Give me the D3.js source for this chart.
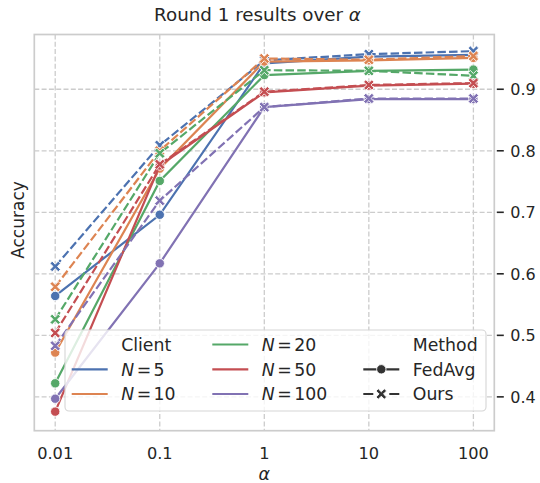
<!DOCTYPE html>
<html>
<head>
<meta charset="utf-8">
<script src="https://cdn.jsdelivr.net/npm/d3@7"></script>
<style>
  body { margin: 0; background: #fff; }
  text { font-family: "DejaVu Sans", sans-serif; fill: #262626; }
</style>
</head>
<body>
<div id="chart"></div>
<script>
// alpha values on the x axis
var alphas = [0.01, 0.1, 1, 10, 100];
var alphaLabels = ["0.01", "0.1", "1", "10", "100"];
var yTicks = [0.4, 0.5, 0.6, 0.7, 0.8, 0.9];

var clients = ["5", "10", "20", "50", "100"];
var colors = ["#4C72B0", "#DD8452", "#55A868", "#C44E52", "#8172B3"];

// accuracy per client count
var fedavg = [
  [0.564, 0.696, 0.942, 0.953, 0.956],
  [0.472, 0.771, 0.945, 0.947, 0.951],
  [0.422, 0.751, 0.923, 0.930, 0.932],
  [0.376, 0.776, 0.895, 0.906, 0.909],
  [0.397, 0.617, 0.871, 0.884, 0.884]
];
var ours = [
  [0.612, 0.809, 0.947, 0.957, 0.962],
  [0.579, 0.800, 0.950, 0.948, 0.954],
  [0.526, 0.796, 0.931, 0.930, 0.922],
  [0.504, 0.778, 0.896, 0.907, 0.910],
  [0.483, 0.719, 0.871, 0.885, 0.885]
];

var W = 540, H = 483;
var L = 34.3, R = 494.3, T = 34.5, B = 430.7;

var svg = d3.select("#chart").append("svg")
    .attr("width", W)
    .attr("height", H);

var x = d3.scaleLog()
    .domain([0.01 / Math.pow(10, 0.2), 100 * Math.pow(10, 0.2)])
    .range([L, R]);
var y = d3.scaleLinear()
    .domain([0.345, 0.989])
    .range([B, T]);

// grid
svg.append("g").selectAll("line.gx")
    .data(alphas).enter().append("line")
    .attr("x1", d => x(d)).attr("x2", d => x(d))
    .attr("y1", T).attr("y2", B)
    .attr("stroke", "#cccccc").attr("stroke-width", 1.3)
    .attr("stroke-dasharray", "5,2.3");
svg.append("g").selectAll("line.gy")
    .data(yTicks).enter().append("line")
    .attr("x1", L).attr("x2", R)
    .attr("y1", d => y(d)).attr("y2", d => y(d))
    .attr("stroke", "#cccccc").attr("stroke-width", 1.3)
    .attr("stroke-dasharray", "5,2.3");

// x marker path (filled X)
function xPath(s) {
  var a = s / 2, w = s * 0.21;
  var pts = [[-w, 0], [-a, -a + w], [-a + w, -a], [0, -w], [a - w, -a], [a, -a + w],
             [w, 0], [a, a - w], [a - w, a], [0, w], [-a + w, a], [-a, a - w]];
  return "M" + pts.map(p => p.join(",")).join("L") + "Z";
}

var line = d3.line()
    .x((d, i) => x(alphas[i]))
    .y(d => y(d));

var plot = svg.append("g");
clients.forEach(function(c, k) {
  [["fedavg", fedavg[k]], ["ours", ours[k]]].forEach(function(m) {
    var g = plot.append("g");
    g.append("path")
        .attr("d", line(m[1]))
        .attr("fill", "none")
        .attr("stroke", colors[k])
        .attr("stroke-width", 2.2)
        .attr("stroke-dasharray", m[0] == "ours" ? "8.5,3.2" : null);
    if (m[0] == "fedavg") {
      g.selectAll("circle").data(m[1]).enter().append("circle")
          .attr("cx", (d, i) => x(alphas[i]))
          .attr("cy", d => y(d))
          .attr("r", 4.7)
          .attr("fill", colors[k])
          .attr("stroke", "#fff").attr("stroke-width", 0.9);
    } else {
      g.selectAll("path.mk").data(m[1]).enter().append("path")
          .attr("class", "mk")
          .attr("d", xPath(10.5))
          .attr("transform", (d, i) => "translate(" + x(alphas[i]) + "," + y(d) + ")")
          .attr("fill", colors[k])
          .attr("stroke", "#fff").attr("stroke-width", 0.9);
    }
  });
});

// frame
svg.append("rect")
    .attr("x", L).attr("y", T)
    .attr("width", R - L).attr("height", B - T)
    .attr("fill", "none")
    .attr("stroke", "#cccccc").attr("stroke-width", 1.7);

// right y axis
var yAxis = svg.append("g").attr("transform", "translate(" + (R + 1) + ",0)");
yAxis.selectAll("line").data(yTicks).enter().append("line")
    .attr("x1", 1.5).attr("x2", 8.5)
    .attr("y1", d => y(d)).attr("y2", d => y(d))
    .attr("stroke", "#262626").attr("stroke-width", 1.6);
yAxis.selectAll("text").data(yTicks).enter().append("text")
    .attr("x", 15)
    .attr("y", d => y(d))
    .attr("dy", "0.36em")
    .style("font-size", "16px")
    .text(d => d.toFixed(1));

// x tick labels
svg.append("g").selectAll("text").data(alphas).enter().append("text")
    .attr("x", d => x(d))
    .attr("y", 458.5)
    .attr("text-anchor", "middle")
    .style("font-size", "16.2px")
    .text((d, i) => alphaLabels[i]);

// axis labels and title
svg.append("text")
    .attr("x", (L + R) / 2).attr("y", 480)
    .attr("text-anchor", "middle")
    .style("font-size", "17.5px").style("font-style", "italic")
    .text("α");
svg.append("text")
    .attr("transform", "translate(24,220) rotate(-90)")
    .attr("text-anchor", "middle")
    .style("font-size", "17px")
    .text("Accuracy");
var title = svg.append("text")
    .attr("x", 257.5).attr("y", 21)
    .attr("text-anchor", "middle")
    .style("font-size", "18.3px");
title.append("tspan").text("Round 1 results over ");
title.append("tspan").style("font-style", "italic").text("α");

// legend
var lg = svg.append("g");
lg.append("rect")
    .attr("x", 65).attr("y", 330)
    .attr("width", 421).attr("height", 81)
    .attr("rx", 4)
    .attr("fill", "#fff").attr("fill-opacity", 0.8)
    .attr("stroke", "#d5d5d5").attr("stroke-width", 1.1);

var rowY = [344.5, 369.3, 394];
var colX = [71.7, 212.3, 363.3];
var entries = [
  {col: 0, row: 0, label: "Client"},
  {col: 0, row: 1, n: 0},
  {col: 0, row: 2, n: 1},
  {col: 1, row: 0, n: 2},
  {col: 1, row: 1, n: 3},
  {col: 1, row: 2, n: 4},
  {col: 2, row: 0, label: "Method"},
  {col: 2, row: 1, label: "FedAvg", m: "fedavg"},
  {col: 2, row: 2, label: "Ours", m: "ours"}
];
var fs = "17.3px";
entries.forEach(function(e) {
  var x0 = colX[e.col], yy = rowY[e.row];
  if (e.n !== undefined) {
    lg.append("line")
        .attr("x1", x0).attr("x2", x0 + 36)
        .attr("y1", yy).attr("y2", yy)
        .attr("stroke", colors[e.n]).attr("stroke-width", 2.2);
    var t = lg.append("text")
        .attr("x", x0 + 49.5).attr("y", yy).attr("dy", "0.36em")
        .style("font-size", fs);
    t.append("tspan").style("font-style", "italic").text("N");
    t.append("tspan").attr("dx", 2.5).text("=");
    t.append("tspan").attr("dx", 2.5).text(clients[e.n]);
  } else {
    if (e.m) {
      lg.append("line")
          .attr("x1", x0).attr("x2", x0 + 36)
          .attr("y1", yy).attr("y2", yy)
          .attr("stroke", "#333").attr("stroke-width", 2.2)
          .attr("stroke-dasharray", e.m == "ours" ? "10,16,10" : null);
      if (e.m == "fedavg") {
        lg.append("circle").attr("cx", x0 + 18).attr("cy", yy).attr("r", 4.7)
            .attr("fill", "#333").attr("stroke", "#fff").attr("stroke-width", 0.9);
      } else {
        lg.append("path").attr("d", xPath(10.5))
            .attr("transform", "translate(" + (x0 + 18) + "," + yy + ")")
            .attr("fill", "#333").attr("stroke", "#fff").attr("stroke-width", 0.9);
      }
    }
    lg.append("text")
        .attr("x", x0 + 49.5).attr("y", yy).attr("dy", "0.36em")
        .style("font-size", fs)
        .text(e.label);
  }
});
</script>
</body>
</html>
